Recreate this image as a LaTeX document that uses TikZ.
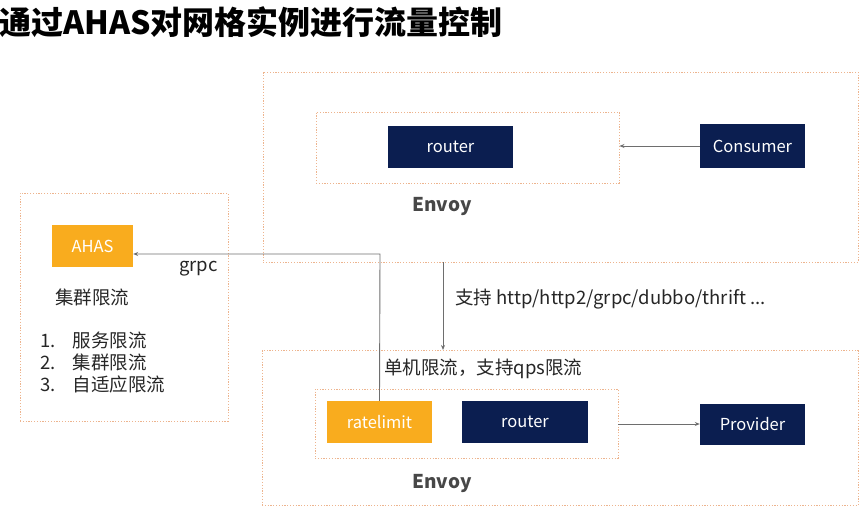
\documentclass[tikz,border=0pt]{standalone}
\usepackage{fontspec}
\setmainfont{Noto Sans CJK SC}
\usetikzlibrary{arrows.meta}
\definecolor{navy}{HTML}{0B1E50}
\definecolor{ahasor}{HTML}{F9AC1E}
\definecolor{dashor}{HTML}{EDB48E}
\definecolor{linegray}{HTML}{6E6E6E}
\definecolor{txt}{HTML}{262626}
\tikzset{
  navybox/.style={fill=navy, text=white, inner sep=0pt, font=\fontsize{16.5}{19}\selectfont},
  orbox/.style={fill=ahasor, text=white, inner sep=0pt, font=\fontsize{16.5}{19}\selectfont},
  dbox/.style={draw=dashor, line width=0.9pt, dash pattern=on 1.2pt off 1.6pt, inner sep=0pt},
  conn/.style={draw=linegray, line width=0.9pt, -{Stealth[length=5pt,width=4pt]}},
  lbl/.style={text=txt, inner sep=0pt, font=\fontsize{18.5}{22}\selectfont},
  envoy/.style={text=txt!85!white, inner sep=0pt, font=\fontsize{19}{22}\selectfont\bfseries},
}
\begin{document}
\begin{tikzpicture}[x=1pt,y=-1pt]
\useasboundingbox (0,0) rectangle (865,514);
% title
\node[anchor=west, inner sep=0pt, font=\fontsize{32}{36}\selectfont\bfseries, text=black] (title) at (-1,22) {通过AHAS对网格实例进行流量控制};
% top envoy
\node[dbox, minimum width=595pt, minimum height=190pt] (topouter) at (560.5,167) {};
\node[dbox, minimum width=303pt, minimum height=71pt] (topinner) at (467.5,147.5) {};
\node[navybox, minimum width=125pt, minimum height=42pt] (router1) at (450.5,147) {router};
\node[navybox, minimum width=105pt, minimum height=44pt] (consumer) at (752.5,146) {Consumer};
\node[envoy] (envoy1) at (442,207) {Envoy};
% left box
\node[dbox, minimum width=208pt, minimum height=228pt] (leftbox) at (124,307) {};
\node[orbox, minimum width=81pt, minimum height=42pt] (ahas) at (92.5,246) {AHAS};
\node[lbl, anchor=west] (grpc) at (179,269) {grpc};
\node[lbl, anchor=west] (cluster) at (55,297) {集群限流};
\node[lbl, anchor=west] (l1) at (40,340) {1.\hspace{17pt}服务限流};
\node[lbl, anchor=west] (l2) at (40,362) {2.\hspace{17pt}集群限流};
\node[lbl, anchor=west] (l3) at (40,384) {3.\hspace{17pt}自适应限流};
% bottom envoy
\node[dbox, minimum width=596pt, minimum height=155pt] (botouter) at (560,428) {};
\node[dbox, minimum width=303pt, minimum height=69pt] (botinner) at (466.5,423.5) {};
\node[orbox, minimum width=105pt, minimum height=42pt] (ratelimit) at (379.5,422) {ratelimit};
\node[navybox, minimum width=126pt, minimum height=42pt] (router2) at (525,422) {router};
\node[navybox, minimum width=105pt, minimum height=41pt] (provider) at (752.5,424) {Provider};
\node[envoy] (envoy2) at (442,483) {Envoy};
\node[lbl, anchor=west] (single) at (384,369) {单机限流，支持qps限流};
\node[lbl, anchor=west] (support) at (455,299) {支持 http/http2/grpc/dubbo/thrift ...};
% connectors
\coordinate (vtop) at (443,262);
\coordinate (vbot) at (443,350);
\coordinate (bend) at (380,254);
\draw[conn] (consumer.west) -- (topinner.east |- consumer.west);
\draw[conn] (vtop) -- (vbot);
\draw[conn] (ratelimit.north) -- (bend) -- (ahas.east |- bend);
\draw[conn] (botinner.east |- provider.west) -- (provider.west);
\end{tikzpicture}
\end{document}
